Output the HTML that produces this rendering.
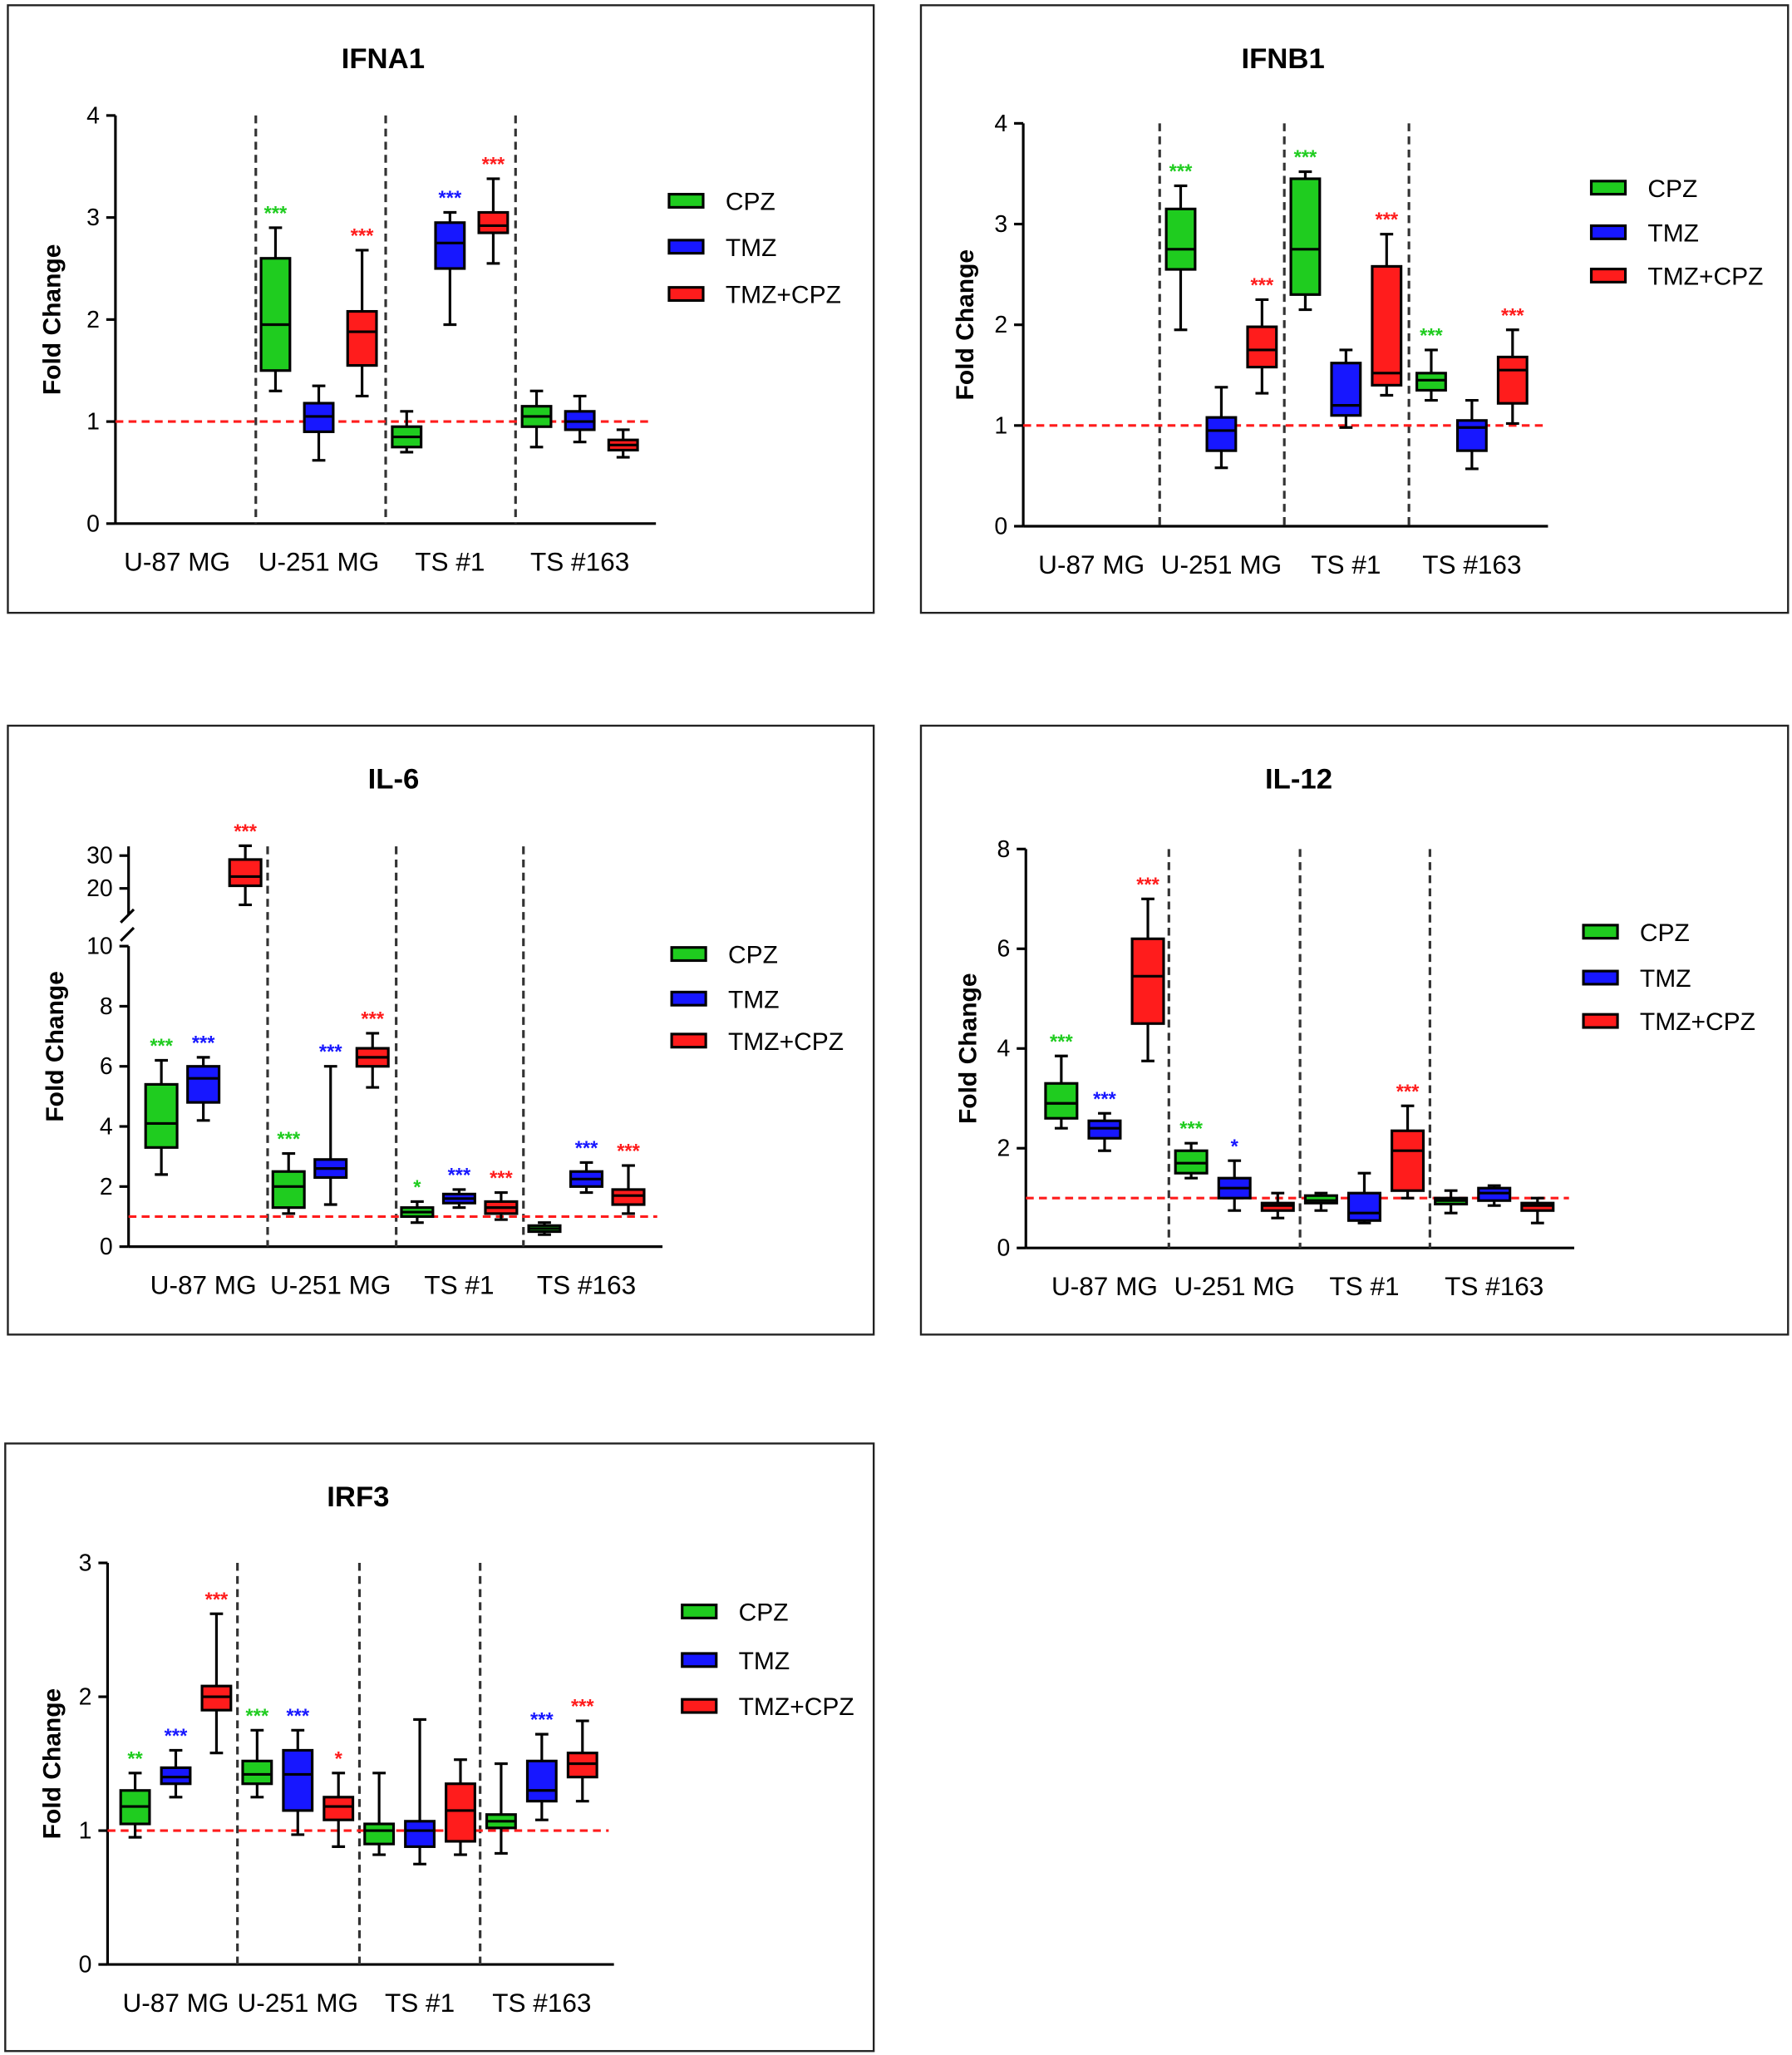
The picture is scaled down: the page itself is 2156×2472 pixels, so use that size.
<!DOCTYPE html>
<html><head><meta charset="utf-8"><style>
html,body{margin:0;padding:0;background:#fff;}
svg{display:block;}
text{font-family:"Liberation Sans",Arial,sans-serif;}
</style></head>
<body>
<svg id="fig" width="2156" height="2472" viewBox="0 0 1366 1566" preserveAspectRatio="none" xmlns="http://www.w3.org/2000/svg"></svg>
<script>
// ---- data: [min, q1, median, q3, max] per cell line ----
const categories = ["U-87 MG","U-251 MG","TS #1","TS #163"];
const seriesNames = ["CPZ","TMZ","TMZ+CPZ"];

const ifna1Cpz = [null,[1.3,1.5,1.95,2.6,2.9],[0.7,0.75,0.85,0.95,1.1],[0.75,0.95,1.05,1.15,1.3]];
const ifna1Tmz = [null,[0.62,0.9,1.05,1.18,1.35],[1.95,2.5,2.75,2.95,3.05],[0.8,0.92,1.0,1.1,1.25]];
const ifna1Combo = [null,[1.25,1.55,1.88,2.08,2.68],[2.55,2.85,2.92,3.05,3.38],[0.65,0.72,0.77,0.82,0.92]];
const ifna1Stars = [["","",""],["***","","***"],["","***","***"],["","",""]];

const ifnb1Cpz = [null,[1.95,2.55,2.75,3.15,3.38],[2.15,2.3,2.75,3.45,3.52],[1.25,1.35,1.45,1.52,1.75]];
const ifnb1Tmz = [null,[0.58,0.75,0.95,1.08,1.38],[0.98,1.1,1.2,1.62,1.75],[0.57,0.75,0.98,1.05,1.25]];
const ifnb1Combo = [null,[1.32,1.58,1.75,1.98,2.25],[1.3,1.4,1.52,2.58,2.9],[1.02,1.22,1.55,1.68,1.95]];
const ifnb1Stars = [["","",""],["***","","***"],["***","","***"],["***","","***"]];

const il6Cpz = [[2.4,3.3,4.1,5.4,6.2],[1.1,1.3,2.0,2.5,3.1],[0.8,1.0,1.15,1.3,1.5],[0.4,0.5,0.6,0.7,0.8]];
const il6Tmz = [[4.2,4.8,5.6,6.0,6.3],[1.4,2.3,2.6,2.9,6.0],[1.3,1.45,1.6,1.75,1.9],[1.8,2.0,2.25,2.5,2.8]];
const il6Combo = [[15,20.8,23.6,28.8,33],[5.3,6.0,6.3,6.6,7.1],[0.9,1.1,1.3,1.5,1.8],[1.1,1.4,1.7,1.9,2.7]];
const il6Stars = [["***","***","***"],["***","***","***"],["*","***","***"],["","***","***"]];

const il12Cpz = [[2.4,2.6,2.9,3.3,3.85],[1.4,1.5,1.7,1.95,2.1],[0.75,0.9,0.95,1.05,1.1],[0.7,0.88,0.95,1.0,1.15]];
const il12Tmz = [[1.95,2.2,2.4,2.55,2.7],[0.75,1.0,1.2,1.4,1.75],[0.5,0.55,0.7,1.1,1.5],[0.85,0.95,1.1,1.2,1.25]];
const il12Combo = [[3.75,4.5,5.45,6.2,7.0],[0.6,0.75,0.85,0.9,1.1],[1.0,1.15,1.95,2.35,2.85],[0.5,0.75,0.85,0.9,1.0]];
const il12Stars = [["***","***","***"],["***","*",""],["","","***"],["","",""]];

const irf3Cpz = [[0.95,1.05,1.18,1.3,1.43],[1.25,1.35,1.42,1.52,1.75],[0.82,0.9,1.0,1.05,1.43],[0.83,1.02,1.07,1.12,1.5]];
const irf3Tmz = [[1.25,1.35,1.4,1.47,1.6],[0.97,1.15,1.42,1.6,1.75],[0.75,0.88,1.0,1.07,1.83],[1.08,1.22,1.3,1.52,1.72]];
const irf3Combo = [[1.58,1.9,2.0,2.08,2.62],[0.88,1.08,1.18,1.25,1.43],[0.82,0.92,1.15,1.35,1.53],[1.22,1.4,1.5,1.58,1.82]];
const irf3Stars = [["**","***","***"],["***","***","*"],["","",""],["","***","***"]];

const ticksStd4 = [0,1,2,3,4];
const ticksIl6Low = [0,2,4,6,8,10];
const ticksIl6High = [20,30];
const ticksIl12 = [0,2,4,6,8];
const ticksIrf3 = [0,1,2,3];

// ---- layout ----
const COLORS = ["#1fcc1f","#1717ff","#ff1c1c"];
const svg = document.getElementById('fig');
const NS = "http://www.w3.org/2000/svg";
function mk(tag, attrs, parent){
  const e = document.createElementNS(NS, tag);
  for (const k in attrs) e.setAttribute(k, attrs[k]);
  (parent||svg).appendChild(e);
  return e;
}
function linear(v0,p0,v1,p1){ return v => p0 + (v - v0) * (p1 - p0) / (v1 - v0); }

const panels = [
  {name:"ifna1", title:"IFNA1", box:[6,4,660,463], titleX:292, titleY:52,
   x0:88, x1:500, yTop:88, yBot:399, y:linear(0,399,4,88), ticks:ticksStd4,
   seps:[195,294,393], centers:[135,243,343,442], off:33, bw:22,
   series:[ifna1Cpz,ifna1Tmz,ifna1Combo], stars:ifna1Stars, legX:510, legY:[153,188,224], ylabX:40},
  {name:"ifnb1", title:"IFNB1", box:[702,4,661,463], titleX:978, titleY:52,
   x0:780, x1:1180, yTop:94, yBot:401, y:linear(0,401,4,94), ticks:ticksStd4,
   seps:[884,979,1074], centers:[832,931,1026,1122], off:31, bw:22,
   series:[ifnb1Cpz,ifnb1Tmz,ifnb1Combo], stars:ifnb1Stars, legX:1213, legY:[143,177,210], ylabX:736},
  {name:"il6", title:"IL-6", box:[6,553,660,464], titleX:300, titleY:601,
   x0:98, x1:505, yTop:645, yBot:950, broken:true,
   y: v => v <= 10 ? 950 - v*22.9 : 677 - (v-20)*2.5,
   ticks:ticksIl6Low.concat(ticksIl6High),
   seps:[204,302,399], centers:[155,252,350,447], off:32, bw:24,
   series:[il6Cpz,il6Tmz,il6Combo], stars:il6Stars, legX:512, legY:[727,761,793], ylabX:42},
  {name:"il12", title:"IL-12", box:[702,553,661,464], titleX:990, titleY:601,
   x0:782, x1:1200, yTop:647, yBot:951, y:linear(0,951,8,647), ticks:ticksIl12,
   seps:[891,991,1090], centers:[842,941,1040,1139], off:33, bw:24,
   series:[il12Cpz,il12Tmz,il12Combo], stars:il12Stars, legX:1207, legY:[710,745,778], ylabX:738},
  {name:"irf3", title:"IRF3", box:[4,1100,662,463], titleX:273, titleY:1148,
   x0:82, x1:468, yTop:1191, yBot:1497, y:linear(0,1497,3,1191), ticks:ticksIrf3,
   seps:[181,274,366], centers:[134,227,320,413], off:31, bw:22,
   series:[irf3Cpz,irf3Tmz,irf3Combo], stars:irf3Stars, legX:520, legY:[1228,1265,1300], ylabX:40}
];

panels.forEach(p => {
  const g = mk('g', {});
  
  
  const fr = mk('rect', {x:p.box[0], y:p.box[1], width:p.box[2], height:p.box[3], fill:'none', stroke:'#222', 'stroke-width':1.5}, g);
  
  
  const t = mk('text', {x:p.titleX, y:p.titleY, 'text-anchor':'middle', 'font-size':22, 'font-weight':'bold'}, g);
  t.textContent = p.title;
  
  
  const yl = mk('text', {x:0, y:0, 'text-anchor':'middle', 'font-size':19, 'font-weight':'bold', transform:`translate(${p.ylabX+6},${(p.yTop+p.yBot)/2}) rotate(-90)`}, g);
  yl.textContent = "Fold Change";
  
  

  // axes
  const xa = mk('line', {x1:p.x0, x2:p.x1, y1:p.yBot, y2:p.yBot, stroke:'#000', 'stroke-width':2}, g);
  
  
  if (p.broken) {
    const ya1 = mk('line', {x1:p.x0, x2:p.x0, y1:p.y(10), y2:p.yBot, stroke:'#000', 'stroke-width':2}, g);
    
    
    const ya2 = mk('line', {x1:p.x0, x2:p.x0, y1:p.yTop, y2:p.y(20)+20, stroke:'#000', 'stroke-width':2}, g);
    
    
    const br = mk('path', {d:`M${p.x0-6},${p.y(20)+26} L${p.x0+4},${p.y(20)+16} M${p.x0-6},${p.y(10)-4} L${p.x0+4},${p.y(10)-14}`, stroke:'#000', 'stroke-width':2, fill:'none'}, g);
    
    
  } else {
    const ya = mk('line', {x1:p.x0, x2:p.x0, y1:p.yTop, y2:p.yBot, stroke:'#000', 'stroke-width':2}, g);
    
    
  }
  p.ticks.forEach(v => {
    const yy = p.y(v);
    const tk = mk('line', {x1:p.x0-7, x2:p.x0, y1:yy, y2:yy, stroke:'#000', 'stroke-width':2}, g);
    
    
    const tl = mk('text', {x:p.x0-12, y:yy+6, 'text-anchor':'end', 'font-size':18}, g);
    tl.textContent = v;
    
    
  });
  // category labels
  categories.forEach((c, i) => {
    const cl = mk('text', {x:p.centers[i], y:p.yBot+36, 'text-anchor':'middle', 'font-size':20}, g);
    cl.textContent = c;
    
    
  });
  // separators
  p.seps.forEach(sx => {
    const sl = mk('line', {x1:sx, x2:sx, y1:p.yTop, y2:p.yBot, stroke:'#333', 'stroke-width':2, 'stroke-dasharray':'6,4'}, g);
    
    
  });
  // baseline
  const bl = mk('line', {x1:p.x0, x2:p.x1-4, y1:p.y(1), y2:p.y(1), stroke:'#ff1c1c', 'stroke-width':2, 'stroke-dasharray':'6,4'}, g);
  
  
  // boxes
  p.series.forEach((ser, s) => {
    ser.forEach((d, i) => {
      const cx = p.centers[i] + (s - 1) * p.off;
      const star = p.stars[i][s];
      if (!d) return;
      const bg = mk('g', {}, g);
      
      
      const [mn, q1, md, q3, mx] = d.map(p.y);
      const w = p.bw, cw = 10;
      mk('line', {x1:cx, x2:cx, y1:mx, y2:mn, stroke:'#000', 'stroke-width':2}, bg);
      mk('line', {x1:cx-cw/2, x2:cx+cw/2, y1:mx, y2:mx, stroke:'#000', 'stroke-width':2}, bg);
      mk('line', {x1:cx-cw/2, x2:cx+cw/2, y1:mn, y2:mn, stroke:'#000', 'stroke-width':2}, bg);
      mk('rect', {x:cx-w/2, y:q3, width:w, height:Math.max(q1-q3,1), fill:COLORS[s], stroke:'#000', 'stroke-width':2}, bg);
      mk('line', {x1:cx-w/2, x2:cx+w/2, y1:md, y2:md, stroke:'#000', 'stroke-width':2}, bg);
      if (star) {
        const st = mk('text', {x:cx, y:mx-6, 'text-anchor':'middle', 'font-size':15, 'font-weight':'bold', fill:COLORS[s]}, g);
        st.textContent = star;
        
        
      }
    });
  });
  // legend
  seriesNames.forEach((n, s) => {
    const lg = mk('g', {}, g);
    
    
    mk('rect', {x:p.legX, y:p.legY[s]-5, width:26, height:10, fill:COLORS[s], stroke:'#000', 'stroke-width':2}, lg);
    const lt = mk('text', {x:p.legX+43, y:p.legY[s]+7, 'font-size':19}, lg);
    lt.textContent = n;
  });
});
</script>
</body></html>
